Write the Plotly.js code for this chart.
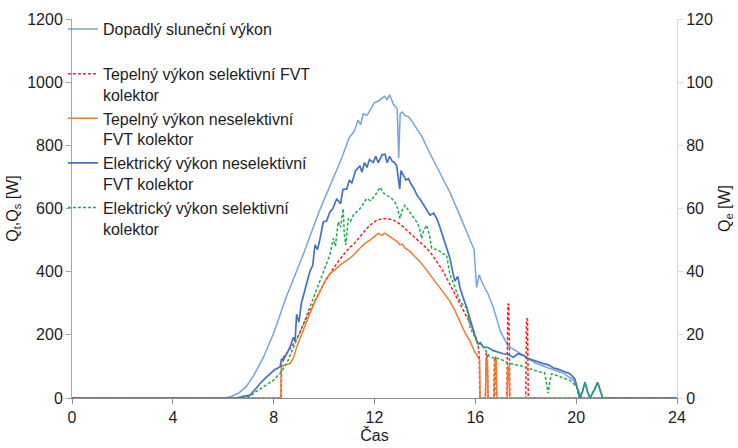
<!DOCTYPE html>
<html>
<head>
<meta charset="utf-8">
<script src="https://cdn.plot.ly/plotly-3.0.1.min.js"></script>
<style>html,body{margin:0;padding:0;background:#fff;}#chart{width:738px;height:448px;}</style>
</head>
<body>
<div id="chart"></div>
<script>
// Time [h] / value pairs
const seriesNames = [
  "Dopadlý sluneční výkon<br> ",
  "Tepelný výkon selektivní FVT<br>kolektor",
  "Tepelný výkon neselektivní<br>FVT kolektor",
  "Elektrický výkon neselektivní<br>FVT kolektor",
  "Elektrický výkon selektivní<br>kolektor"
];
const xTicks = [0, 4, 8, 12, 16, 20, 24];

// Dopadlý sluneční výkon [W] (left axis)
const solar = [[0,0],[6.1,0],[6.3,5],[6.6,15],[6.9,35],[7.2,70],[7.6,130],[8.0,205],[8.5,320],[9.2,460],[9.8,590],[10.4,700],[10.7,760],[11.0,825],[11.2,845],[11.35,880],[11.45,865],[11.55,900],[11.7,895],[11.85,915],[12.0,935],[12.15,940],[12.3,950],[12.4,955],[12.5,945],[12.6,960],[12.75,930],[12.9,915],[12.96,760],[13.02,900],[13.1,905],[13.2,895],[13.35,890],[13.5,875],[13.7,850],[13.9,825],[14.1,790],[14.3,760],[14.6,710],[15.0,650],[15.4,575],[15.8,500],[15.95,470],[16.05,350],[16.15,390],[16.3,360],[16.5,330],[16.7,290],[17.0,210],[17.3,165],[17.6,150],[18.0,130],[18.4,110],[18.9,95],[19.5,78],[19.9,56],[20.1,20],[20.25,0],[24,0]];

// Tepelný výkon selektivní FVT kolektor [W] (left axis)
const thermSel = [[0,0],[8.3,0],[8.32,125],[8.38,129],[8.55,145],[8.78,171],[9.0,200],[9.18,234],[9.57,297],[9.97,359],[10.37,411],[10.76,453],[11.03,478],[11.16,485],[11.42,510],[11.69,537],[11.9,552],[12.09,563],[12.3,567],[12.48,568],[12.7,565],[12.88,558],[13.05,548],[13.27,532],[13.47,518],[13.67,505],[13.87,490],[14.07,474],[14.27,455],[14.47,432],[14.67,408],[14.86,380],[15.06,350],[15.26,317],[15.46,290],[15.66,255],[15.8,235],[15.92,213],[16.05,185],[16.12,161],[16.15,140],[16.18,0],[16.4,0],[16.43,141],[16.47,141],[16.5,0],[16.73,0],[16.76,129],[16.8,129],[16.83,0],[17.25,0],[17.29,297],[17.33,297],[17.37,0],[18.0,0],[18.03,250],[18.07,250],[18.1,0],[24,0]];

// Tepelný výkon neselektivní FVT kolektor [W] (left axis)
const thermNesel = [[0,0],[8.28,0],[8.3,98],[8.45,105],[8.65,109],[8.8,130],[8.91,161],[9.1,200],[9.31,244],[9.5,280],[9.71,317],[9.9,350],[10.1,380],[10.3,398],[10.5,411],[10.75,428],[11.03,443],[11.2,455],[11.42,474],[11.6,488],[11.82,500],[12.0,510],[12.15,521],[12.3,515],[12.4,522],[12.48,518],[12.6,512],[12.75,505],[12.9,495],[13.01,485],[13.1,488],[13.2,475],[13.41,464],[13.6,448],[13.8,432],[14.0,412],[14.2,391],[14.4,370],[14.6,349],[14.8,328],[14.99,307],[15.2,275],[15.39,240],[15.6,205],[15.79,180],[15.95,150],[16.1,130],[16.17,120],[16.19,0],[16.4,0],[16.43,120],[16.48,120],[16.51,0],[16.75,0],[16.78,120],[16.83,120],[16.86,0],[17.26,0],[17.29,100],[17.33,100],[17.36,0],[24,0]];

// Elektrický výkon neselektivní FVT kolektor [W] (right axis)
const elecNesel = [[0,0],[6.5,0],[6.8,0.5],[7.06,0.9],[7.3,3.0],[7.46,4.6],[7.7,6.5],[7.85,7.7],[8.05,9.0],[8.25,9.8],[8.32,12.5],[8.38,11.9],[8.5,14.0],[8.65,16.1],[8.78,19.2],[8.85,18.0],[8.91,26.5],[9.0,24.0],[9.1,30.0],[9.18,32.8],[9.3,36.0],[9.44,40.1],[9.55,42.0],[9.64,48.5],[9.74,47.0],[9.84,50.5],[9.97,55.8],[10.1,56.0],[10.23,58.9],[10.35,60.0],[10.5,63.1],[10.65,61.5],[10.75,66.0],[10.9,66.2],[11.0,69.0],[11.1,68.0],[11.25,72.0],[11.42,73.5],[11.5,71.5],[11.6,74.5],[11.7,73.0],[11.8,75.5],[11.95,74.6],[12.05,76.5],[12.15,74.5],[12.3,77.0],[12.42,77.2],[12.5,74.5],[12.6,76.5],[12.7,75.0],[12.8,74.5],[12.88,73.5],[12.95,70.0],[13.0,66.2],[13.05,72.0],[13.14,70.4],[13.25,69.0],[13.35,69.5],[13.41,68.3],[13.55,66.5],[13.7,64.0],[13.8,63.1],[14.0,60.5],[14.2,57.9],[14.35,58.5],[14.47,56.8],[14.6,54.0],[14.73,50.5],[14.86,47.0],[14.99,44.3],[15.1,40.0],[15.19,37.0],[15.3,38.5],[15.39,35.0],[15.52,31.7],[15.66,28.6],[15.79,25.0],[15.92,21.3],[16.05,18.0],[16.12,17.1],[16.2,17.5],[16.32,16.1],[16.5,16.0],[16.71,15.0],[16.9,14.5],[17.11,14.0],[17.3,13.8],[17.51,12.9],[17.7,14.0],[17.9,13.5],[18.1,12.5],[18.3,11.9],[18.5,11.5],[18.7,10.9],[18.9,10.5],[19.1,9.5],[19.22,9.3],[19.45,8.5],[19.75,7.7],[19.95,6.0],[20.05,3.0],[20.15,0],[20.25,2.0],[20.35,5.0],[20.45,2.0],[20.55,0],[20.75,3.0],[20.85,5.0],[20.95,2.5],[21.05,0],[24,0]];

// Elektrický výkon selektivní kolektor [W] (right axis)
const elecSel = [[0,0],[6.5,0],[7.06,0.5],[7.3,2.0],[7.59,3.5],[7.8,4.5],[7.99,5.6],[8.15,7.0],[8.25,7.7],[8.4,9.5],[8.52,10.9],[8.65,13.5],[8.78,16.1],[9.0,20.0],[9.18,23.4],[9.4,28.0],[9.57,31.7],[9.7,34.5],[9.84,37.0],[9.97,40.1],[10.1,43.0],[10.23,45.3],[10.37,50.5],[10.45,48.0],[10.56,55.8],[10.65,54.0],[10.76,59.9],[10.8,52.0],[10.86,48.5],[10.96,56.8],[11.05,56.0],[11.16,57.9],[11.3,59.0],[11.42,59.9],[11.55,61.5],[11.69,63.1],[11.85,62.5],[12.0,64.0],[12.1,65.0],[12.22,66.7],[12.35,65.0],[12.48,64.1],[12.65,63.5],[12.81,62.0],[12.92,60.0],[13.01,56.8],[13.1,59.5],[13.21,61.0],[13.3,60.0],[13.41,58.9],[13.55,57.5],[13.67,55.8],[13.78,54.0],[13.87,50.5],[13.95,53.0],[14.07,54.7],[14.17,52.0],[14.27,47.4],[14.45,47.0],[14.6,46.4],[14.75,45.5],[14.86,45.3],[14.93,42.0],[14.99,39.1],[15.1,37.0],[15.19,34.9],[15.3,32.5],[15.39,30.7],[15.55,29.0],[15.66,28.6],[15.79,22.3],[15.92,20.0],[16.05,18.2],[16.2,17.0],[16.32,16.1],[16.45,14.5],[16.58,12.9],[16.8,12.7],[16.98,12.4],[17.2,11.5],[17.37,10.9],[17.6,10.5],[17.77,10.3],[18.0,9.7],[18.17,9.3],[18.4,8.7],[18.56,8.2],[18.75,8.0],[18.85,4.0],[18.89,1.5],[18.95,5.0],[19.03,7.7],[19.2,7.2],[19.36,6.7],[19.55,6.2],[19.75,5.6],[19.9,4.5],[20.02,3.5],[20.12,0],[20.25,2.0],[20.35,5.0],[20.45,2.0],[20.55,0],[20.75,3.0],[20.85,5.0],[20.95,2.5],[21.05,0],[24,0]];

const FONT = "Liberation Sans, Arial, sans-serif";
function tr(data, name, color, dash, width, yaxis) {
  return {
    type: "scatter", mode: "lines", name: name,
    x: data.map(p => p[0]), y: data.map(p => p[1]),
    yaxis: yaxis,
    line: {color: color, width: width, dash: dash},
    hoverinfo: "x+y+name"
  };
}
const traces = [
  tr(solar, seriesNames[0], "#74a5dc", "solid", 1.5, "y"),
  tr(thermSel, seriesNames[1], "#ff1f1f", "3px,2px", 1.5, "y"),
  tr(thermNesel, seriesNames[2], "#ed7d31", "solid", 1.5, "y"),
  tr(elecNesel, seriesNames[3], "#4472c4", "solid", 1.7, "y2"),
  tr(elecSel, seriesNames[4], "#19b04c", "3px,2px", 1.5, "y2")
];

const layout = {
  width: 738, height: 448,
  margin: {l: 72, r: 61, t: 14, b: 50, pad: 0},
  paper_bgcolor: "#fff", plot_bgcolor: "#fff",
  font: {family: FONT, size: 16, color: "#1e1e1e"},
  showlegend: true,
  legend: {
    x: -0.015, y: 1.018, xanchor: "left", yanchor: "top",
    bgcolor: "rgba(0,0,0,0)", borderwidth: 0,
    font: {family: FONT, size: 16, color: "#1e1e1e"},
    valign: "top", tracegroupgap: 0
  },
  xaxis: {
    range: [0, 24], tickmode: "array", tickvals: xTicks, ticktext: xTicks.map(String),
    showgrid: false, zeroline: false, showline: true, linecolor: "#8c8c8c", linewidth: 1,
    ticks: "outside", ticklen: 5, tickcolor: "#8c8c8c",
    tickfont: {family: FONT, size: 16, color: "#1e1e1e"},
    title: {text: "Čas", font: {family: FONT, size: 16, color: "#1e1e1e"}, standoff: 2},
    automargin: false
  },
  yaxis: {
    range: [0, 1200], dtick: 200, tick0: 0,
    showgrid: false, zeroline: false, showline: true, linecolor: "#a6a6a6", linewidth: 1,
    ticks: "outside", ticklen: 5, tickcolor: "#a6a6a6",
    tickfont: {family: FONT, size: 16, color: "#1e1e1e"},
    title: {text: "Q<sub>t</sub>,Q<sub>s</sub> [W]", font: {family: FONT, size: 16, color: "#1e1e1e"}, standoff: 4},
    automargin: false
  },
  yaxis2: {
    overlaying: "y", side: "right",
    range: [0, 120], dtick: 20, tick0: 0,
    showgrid: false, zeroline: false, showline: true, linecolor: "#d9d9d9", linewidth: 1,
    ticks: "outside", ticklen: 5, tickcolor: "#d9d9d9",
    tickfont: {family: FONT, size: 16, color: "#1e1e1e"},
    title: {text: "Q<sub>e</sub> [W]", font: {family: FONT, size: 16, color: "#1e1e1e"}, standoff: 6},
    automargin: false
  }
};

Plotly.newPlot("chart", traces, layout, {staticPlot: true, displayModeBar: false});
</script>
</body>
</html>
